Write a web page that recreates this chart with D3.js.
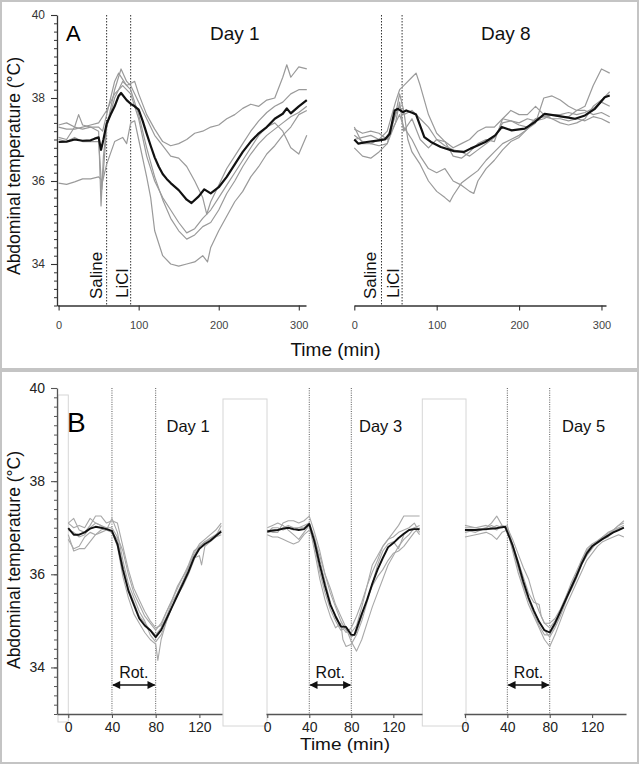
<!DOCTYPE html>
<html>
<head>
<meta charset="utf-8">
<script src="https://cdn.jsdelivr.net/npm/d3@7"></script>
<style>
body { margin: 0; background: #fff; }
svg { display: block; }
text { font-family: "Liberation Sans", Arial, sans-serif; }
</style>
</head>
<body>
<div id="fig"></div>
<script>
// ---- Panel A: LiCl injection, [min, °C] ----
var a1Mean = [[0,36.94],[10,36.95],[20,37.0],[30,36.97],[40,36.98],[45,37.02],[50,37.05],[53,36.75],[56,37.0],[60,37.38],[65,37.6],[70,37.8],[75,38.05],[78,38.12],[85,37.95],[90,37.86],[95,37.8],[100,37.72],[105,37.45],[110,37.14],[115,36.85],[120,36.57],[125,36.35],[130,36.17],[135,36.05],[140,35.95],[150,35.78],[160,35.55],[166,35.47],[175,35.63],[182,35.8],[190,35.7],[200,35.85],[210,36.1],[220,36.4],[230,36.7],[240,36.95],[250,37.15],[260,37.3],[270,37.5],[280,37.62],[285,37.75],[290,37.63],[300,37.8],[310,37.95]];
var a1Mice = [
  [[0,35.95],[10,35.92],[20,35.98],[30,36.05],[40,36.05],[50,36.1],[55,36.0],[60,36.4],[70,36.95],[80,37.05],[85,36.9],[90,37.4],[95,37.45],[100,37.0],[110,36.1],[115,35.6],[120,34.8],[130,34.2],[140,34.0],[150,33.95],[160,34.0],[170,34.05],[180,34.2],[186,34.05],[190,34.4],[200,34.8],[210,35.15],[220,35.5],[230,35.75],[240,36.1],[250,36.35],[260,36.65],[270,36.85],[280,37.1],[290,37.3],[300,37.6],[310,37.7]],
  [[0,37.35],[10,37.4],[20,37.3],[30,37.25],[40,37.3],[50,37.3],[55,37.2],[60,37.6],[65,38.0],[70,38.4],[75,38.6],[80,38.45],[85,38.3],[90,38.35],[95,38.4],[100,38.1],[110,37.6],[120,37.25],[130,36.95],[140,36.85],[150,36.9],[160,37.0],[170,37.15],[180,37.2],[190,37.3],[200,37.35],[210,37.5],[220,37.6],[230,37.75],[240,37.85],[250,37.8],[260,37.95],[270,38.0],[280,38.5],[285,38.8],[290,38.5],[300,38.75],[310,38.7]],
  [[0,37.05],[10,37.0],[20,37.3],[25,37.6],[30,37.35],[40,37.3],[50,37.2],[53,35.4],[56,36.6],[60,37.3],[70,38.2],[78,38.7],[85,38.4],[90,38.3],[100,37.9],[110,37.5],[120,37.1],[130,36.85],[140,36.6],[150,36.55],[160,36.35],[170,36.0],[180,35.6],[185,35.2],[190,35.5],[200,35.9],[210,36.3],[220,36.6],[230,36.9],[240,37.2],[250,37.45],[260,37.65],[270,37.8],[280,37.9],[290,38.1],[300,38.2],[310,38.2]],
  [[0,37.0],[10,36.95],[20,37.05],[30,36.95],[40,36.95],[50,36.95],[54,35.8],[57,36.5],[60,37.3],[70,38.0],[80,38.4],[90,38.2],[100,37.6],[110,36.8],[120,36.1],[130,35.55],[140,35.1],[150,34.8],[160,34.6],[170,34.7],[180,34.9],[190,35.0],[200,35.3],[210,35.7],[220,36.0],[230,36.35],[240,36.65],[250,36.9],[260,37.1],[270,37.25],[280,37.4],[290,37.55],[300,37.65],[310,37.8]],
  [[0,37.3],[10,37.25],[20,37.25],[30,37.3],[40,37.35],[50,37.4],[60,37.7],[70,38.1],[80,38.3],[90,38.1],[100,37.5],[110,36.6],[120,36.0],[130,35.6],[140,35.3],[150,35.0],[160,34.75],[170,34.85],[180,35.1],[190,35.3],[200,35.6],[210,35.9],[220,36.2],[230,36.5],[240,36.8],[250,37.1],[260,37.3],[270,37.4],[280,37.2],[290,36.8],[300,36.65],[310,37.1]]
];
var a8Mean = [[0,37.0],[5,36.9],[15,36.94],[30,36.98],[37,37.0],[43,37.14],[49,37.7],[53,37.74],[59,37.66],[63,37.7],[71,37.64],[75,37.6],[85,37.06],[93,36.94],[105,36.82],[121,36.72],[133,36.7],[141,36.78],[149,36.85],[159,36.94],[171,37.1],[179,37.3],[191,37.22],[207,37.26],[219,37.42],[231,37.62],[243,37.58],[256,37.54],[268,37.5],[280,37.58],[292,37.74],[304,38.02],[310,38.06]];
var a8Mice = [
  [[0,37.3],[10,36.9],[20,36.9],[30,37.0],[40,37.2],[50,37.9],[55,38.2],[60,38.3],[70,38.5],[75,38.6],[80,38.3],[90,37.6],[100,37.15],[110,36.95],[120,36.8],[130,36.9],[140,37.0],[150,37.2],[160,37.3],[170,37.3],[180,37.5],[190,37.45],[200,37.4],[210,37.5],[220,37.45],[230,37.5],[240,37.6],[250,37.55],[260,37.55],[270,37.7],[280,37.8],[290,38.3],[300,38.7],[310,38.6]],
  [[0,37.1],[10,36.95],[20,36.9],[30,36.85],[40,36.9],[50,37.6],[55,38.1],[60,37.7],[65,37.0],[70,36.7],[80,36.4],[90,36.0],[100,35.75],[110,35.6],[116,35.5],[120,35.65],[130,35.95],[140,36.1],[150,36.25],[160,36.5],[170,36.7],[180,36.9],[190,37.0],[200,37.1],[210,37.25],[220,37.5],[230,37.55],[240,37.6],[250,37.6],[260,37.65],[270,37.6],[280,37.65],[290,37.75],[300,37.9],[310,37.8]],
  [[0,36.8],[10,36.6],[20,36.55],[30,36.7],[40,36.9],[50,37.4],[55,37.6],[60,37.3],[70,37.0],[80,36.6],[90,36.3],[100,36.2],[110,36.3],[120,36.0],[130,35.9],[140,35.75],[145,35.7],[150,36.0],[160,36.3],[170,36.5],[180,36.75],[190,36.95],[200,37.05],[210,37.25],[220,37.4],[230,38.0],[240,38.05],[250,37.95],[260,37.8],[270,37.7],[280,37.7],[290,37.6],[300,37.65],[310,37.55]],
  [[0,37.0],[10,37.05],[20,37.1],[30,37.0],[40,37.05],[50,37.6],[55,37.8],[60,37.6],[70,37.7],[80,37.5],[90,37.3],[100,37.0],[110,36.85],[120,36.75],[130,36.7],[140,36.6],[150,36.75],[160,36.9],[170,37.05],[180,37.4],[190,37.45],[200,37.35],[210,37.3],[220,37.5],[230,37.55],[240,37.5],[250,37.5],[260,37.45],[270,37.5],[280,37.45],[290,37.55],[300,37.5],[310,37.4]],
  [[0,37.25],[10,37.15],[20,37.2],[30,37.15],[40,37.0],[50,37.4],[55,37.9],[60,37.2],[70,37.5],[80,37.0],[90,36.8],[100,37.0],[110,36.95],[120,36.6],[130,36.55],[140,36.7],[150,36.9],[160,37.0],[170,36.95],[180,37.5],[190,37.7],[200,37.6],[210,37.6],[220,37.8],[230,37.6],[240,37.5],[250,37.4],[260,37.35],[270,37.4],[280,37.5],[290,37.8],[300,37.95],[310,38.15]]
];
var a1Marks = [60, 90];
var a8Marks = [33, 58];
var aTicksX = [0, 100, 200, 300];

// ---- Panel B: rotation, [min, °C] ----
var b1Mean = [[0,36.99],[5,36.85],[10,36.85],[15,36.9],[20,36.98],[25,37.02],[30,37.0],[35,36.97],[40,36.93],[45,36.65],[50,36.1],[55,35.65],[60,35.35],[65,35.05],[70,34.9],[75,34.8],[80,34.65],[85,34.8],[90,35.05],[95,35.3],[100,35.55],[105,35.8],[110,36.05],[115,36.35],[120,36.55],[125,36.65],[130,36.72],[135,36.82],[140,36.92]];
var b1Mice = [
  [[0,37.1],[5,37.2],[10,36.95],[15,36.9],[20,37.05],[25,37.25],[30,37.25],[35,37.1],[40,37.15],[45,37.1],[50,36.6],[55,36.1],[60,35.7],[65,35.45],[70,35.2],[75,35.0],[80,34.85],[85,34.9],[90,35.2],[95,35.45],[100,35.7],[105,35.95],[110,36.15],[115,36.45],[120,36.65],[125,36.75],[130,36.85],[135,36.95],[140,37.1]],
  [[0,36.75],[5,36.55],[10,36.6],[15,36.8],[20,36.9],[25,36.85],[30,36.95],[35,37.0],[40,36.9],[45,36.6],[50,35.95],[55,35.5],[60,35.15],[65,34.95],[70,34.75],[75,34.6],[80,34.5],[82,34.15],[85,34.6],[90,35.0],[95,35.3],[100,35.55],[105,35.75],[110,36.0],[115,36.3],[120,36.6],[125,36.7],[130,36.75],[135,36.85],[140,36.95]],
  [[0,36.85],[5,36.5],[10,36.55],[15,36.55],[20,36.7],[25,36.85],[30,36.9],[35,36.95],[40,37.2],[45,36.9],[50,36.3],[55,35.8],[60,35.5],[65,35.2],[70,35.0],[75,34.7],[80,34.55],[85,34.7],[90,35.0],[95,35.3],[100,35.6],[105,35.85],[110,36.1],[115,36.35],[120,36.4],[122,36.2],[125,36.6],[130,36.7],[135,36.8],[140,36.85]],
  [[0,37.1],[5,37.0],[10,37.05],[15,37.0],[20,37.2],[25,37.1],[30,37.05],[35,36.95],[40,36.9],[45,36.75],[50,36.2],[55,35.7],[60,35.4],[65,35.1],[70,34.95],[75,34.8],[80,34.7],[85,34.85],[90,35.1],[95,35.4],[100,35.6],[105,35.85],[110,36.15],[115,36.4],[120,36.6],[125,36.7],[130,36.78],[135,36.85],[140,36.9]],
  [[0,36.95],[5,36.9],[10,36.8],[15,36.85],[20,37.0],[25,37.1],[30,37.05],[35,37.0],[40,37.0],[45,36.8],[50,36.5],[55,36.0],[60,35.6],[65,35.35],[70,35.1],[75,34.95],[80,34.8],[85,34.95],[90,35.2],[95,35.45],[100,35.75],[105,35.95],[110,36.2],[115,36.5],[120,36.6],[125,36.68],[130,36.75],[135,36.82],[140,37.05]]
];
var b3Mean = [[0,36.92],[5,36.94],[10,36.95],[15,36.98],[20,37.0],[25,36.97],[30,36.95],[35,36.97],[40,37.08],[45,36.7],[50,36.2],[55,35.75],[60,35.35],[65,35.1],[70,34.88],[75,34.87],[80,34.7],[83,34.7],[90,35.15],[95,35.45],[100,35.8],[105,36.1],[110,36.35],[115,36.58],[120,36.67],[125,36.78],[130,36.87],[135,36.95],[140,36.97],[145,36.97]];
var b3Mice = [
  [[0,36.95],[5,36.9],[10,36.9],[15,37.1],[20,37.15],[25,37.15],[30,37.1],[35,37.15],[40,37.25],[45,36.9],[50,36.5],[55,36.0],[60,35.6],[65,35.3],[70,35.0],[75,34.8],[80,34.75],[85,34.9],[90,35.3],[95,35.75],[100,36.2],[105,36.4],[110,36.6],[115,36.75],[120,36.9],[125,37.05],[130,37.25],[135,37.25],[140,37.25],[145,37.25]],
  [[0,36.85],[5,36.8],[10,36.8],[15,36.75],[20,36.7],[25,36.65],[30,36.7],[35,36.85],[40,36.95],[45,36.75],[50,36.4],[55,36.0],[60,35.7],[65,35.35],[70,35.1],[75,34.85],[80,34.55],[85,34.35],[90,34.6],[95,34.95],[100,35.3],[105,35.6],[110,35.9],[115,36.2],[120,36.4],[125,36.6],[130,36.75],[135,36.85],[140,37.0],[145,37.05]],
  [[0,37.0],[5,37.05],[10,37.1],[15,37.05],[20,36.95],[25,36.85],[30,36.75],[35,36.9],[40,37.05],[45,36.5],[50,35.9],[55,35.45],[60,35.1],[65,34.85],[70,34.95],[72,34.6],[75,34.45],[80,34.5],[85,34.7],[90,35.0],[95,35.4],[100,35.8],[105,36.2],[110,36.5],[115,36.65],[120,36.7],[125,36.55],[130,36.85],[135,36.95],[140,37.0],[145,36.85]],
  [[0,36.9],[5,36.92],[10,36.95],[15,37.0],[20,37.05],[25,37.0],[30,37.0],[35,37.05],[40,37.1],[45,36.6],[50,36.05],[55,35.6],[60,35.25],[65,35.0],[70,34.8],[75,34.85],[80,34.65],[85,34.75],[90,35.1],[95,35.45],[100,35.75],[105,35.95],[110,36.1],[115,36.3],[120,36.45],[125,36.5],[130,36.6],[135,36.75],[140,36.9],[145,37.0]],
  [[0,36.9],[5,37.0],[10,37.0],[15,36.95],[20,37.0],[25,36.95],[30,37.0],[35,37.0],[40,37.1],[45,36.8],[50,36.3],[55,35.85],[60,35.4],[65,35.05],[70,34.9],[75,34.75],[80,34.85],[85,35.1],[90,35.4],[95,35.75],[100,36.05],[105,36.3],[110,36.6],[115,36.75],[120,36.8],[125,36.9],[130,36.95],[135,37.0],[140,37.1],[145,36.9]]
];
var b5Mean = [[0,36.95],[10,36.95],[20,36.97],[30,36.99],[38,37.02],[45,36.62],[50,36.25],[55,35.85],[60,35.5],[65,35.22],[70,34.98],[75,34.8],[80,34.75],[85,34.95],[90,35.2],[95,35.45],[100,35.7],[105,35.95],[110,36.22],[115,36.45],[120,36.6],[125,36.68],[130,36.76],[135,36.83],[140,36.9],[145,36.95],[150,37.0]];
var b5Mice = [
  [[0,36.9],[10,36.95],[20,37.0],[25,37.1],[30,37.25],[35,37.05],[40,37.0],[45,36.75],[50,36.45],[55,36.15],[60,35.9],[65,35.5],[70,35.2],[75,34.95],[80,34.95],[85,35.05],[90,35.25],[95,35.5],[100,35.8],[105,36.05],[110,36.3],[115,36.5],[120,36.6],[125,36.7],[130,36.8],[135,36.85],[140,36.95],[145,37.05],[150,37.15]],
  [[0,36.8],[10,36.85],[20,36.9],[25,36.85],[30,36.75],[35,36.9],[40,36.95],[45,36.5],[50,36.05],[55,35.7],[60,35.35],[65,35.1],[70,34.85],[75,34.6],[80,34.45],[85,34.7],[90,35.0],[95,35.3],[100,35.55],[105,35.8],[110,36.05],[115,36.3],[120,36.45],[125,36.6],[130,36.7],[135,36.75],[140,36.8],[145,36.85],[150,36.8]],
  [[0,37.0],[10,37.0],[20,36.95],[25,37.0],[30,37.05],[35,37.0],[40,37.05],[45,36.6],[50,36.2],[55,35.75],[60,35.45],[65,35.2],[70,35.0],[75,34.8],[80,34.65],[85,34.85],[90,35.1],[95,35.4],[100,35.7],[105,35.95],[110,36.3],[115,36.55],[120,36.65],[125,36.72],[130,36.8],[135,36.9],[140,36.95],[145,37.0],[150,37.05]],
  [[0,37.05],[10,37.0],[20,37.05],[25,37.0],[30,36.95],[35,37.05],[40,37.0],[45,36.65],[50,36.3],[55,35.95],[60,35.6],[65,35.4],[70,35.35],[72,35.1],[75,34.95],[80,34.85],[85,35.0],[90,35.2],[95,35.5],[100,35.75],[105,36.0],[110,36.25],[115,36.5],[120,36.62],[125,36.7],[130,36.75],[135,36.8],[140,36.92],[145,36.98],[150,37.0]],
  [[0,36.95],[10,36.9],[20,37.0],[25,37.05],[30,37.0],[35,37.05],[40,36.95],[45,36.55],[50,36.15],[55,35.8],[60,35.45],[65,35.15],[70,34.9],[75,34.7],[80,34.7],[85,34.9],[90,35.15],[95,35.45],[100,35.65],[105,35.9],[110,36.2],[115,36.4],[120,36.55],[125,36.7],[130,36.8],[135,36.88],[140,36.95],[145,37.05],[150,37.1]]
];
var bMarks = [40, 80];
var bTicksX = [0, 40, 80, 120];
var tempTicks = [34, 36, 38, 40];

var svg = d3.select("#fig").append("svg")
  .attr("width", 639)
  .attr("height", 768);

// panel frames
svg.append("rect").attr("x", 1).attr("y", 1).attr("width", 637).attr("height", 368)
  .attr("fill", "none").attr("stroke", "#c4c4c4").attr("stroke-width", 2);
svg.append("rect").attr("x", 1).attr("y", 371).attr("width", 637).attr("height", 392)
  .attr("fill", "none").attr("stroke", "#c4c4c4").attr("stroke-width", 2);

function styleAxis(g, color, font, size, fill) {
  g.select(".domain").attr("stroke", color).attr("stroke-width", 1.3);
  g.selectAll(".tick line").attr("stroke", color).attr("stroke-width", 1.1);
  g.selectAll(".tick text").attr("font-family", font).attr("font-size", size).attr("fill", fill);
}

function drawLines(g, x, y, mice, mean, grey, wGrey, wMean) {
  var line = d3.line().x(d => x(d[0])).y(d => y(d[1]));
  g.selectAll(null).data(mice).enter().append("path")
    .attr("d", line).attr("fill", "none")
    .attr("stroke", grey).attr("stroke-width", wGrey).attr("stroke-linejoin", "round");
  g.append("path").datum(mean).attr("d", line).attr("fill", "none")
    .attr("stroke", "#111").attr("stroke-width", wMean).attr("stroke-linejoin", "round");
}

function tempAxis(y, x0, font, size, fill, color) {
  var major = svg.append("g").attr("transform", `translate(${x0},0)`)
    .call(d3.axisLeft(y).tickValues(tempTicks).tickFormat(d3.format("d"))
      .tickSize(6).tickPadding(6).tickSizeOuter(0));
  styleAxis(major, color, font, size, fill);
  var minor = svg.append("g").attr("transform", `translate(${x0},0)`)
    .call(d3.axisLeft(y).tickValues(d3.range(33, 40.01, 0.2)).tickSize(3).tickFormat(""));
  minor.select(".domain").remove();
  minor.selectAll(".tick line").attr("stroke", color);
}

// ---------- Panel A ----------
var yA = d3.scaleLinear().domain([33, 40]).range([305.5, 15]);
var xA1 = d3.scaleLinear().domain([-2, 309]).range([57, 306]);
var xA8 = d3.scaleLinear().domain([0, 305.5]).range([354.3, 606]);

function panelA(x, mice, mean, marks, title, titleX) {
  var g = svg.append("g");
  g.selectAll(null).data(marks).enter().append("line")
    .attr("x1", d => x(d)).attr("x2", d => x(d))
    .attr("y1", 15).attr("y2", 305.5)
    .attr("stroke", "#333").attr("stroke-width", 1).attr("stroke-dasharray", "1.5,1.5");
  drawLines(g, x, yA, mice, mean, "#9a9a9a", 1.2, 2.2);
  var ax = svg.append("g").attr("transform", "translate(0,305.5)")
    .call(d3.axisBottom(x).tickValues(aTicksX).tickFormat(d3.format("d"))
      .tickSize(5).tickPadding(11).tickSizeOuter(0));
  styleAxis(ax, "#333", "DejaVu Sans", 11, "#444");
  svg.append("text").attr("x", x(marks[0]) - 5).attr("y", 299)
    .attr("transform", `rotate(-90,${x(marks[0]) - 5},299)`)
    .attr("font-size", 17).attr("fill", "#111").text("Saline");
  svg.append("text").attr("x", x(marks[1]) - 3).attr("y", 298)
    .attr("transform", `rotate(-90,${x(marks[1]) - 3},298)`)
    .attr("font-size", 17).attr("fill", "#111").text("LiCl");
  svg.append("text").attr("x", titleX).attr("y", 40)
    .attr("font-size", 19).attr("fill", "#111").text(title);
}
panelA(xA1, a1Mice, a1Mean, a1Marks, "Day 1", 210);
panelA(xA8, a8Mice, a8Mean, a8Marks, "Day 8", 481);
tempAxis(yA, 57, "DejaVu Sans", 12, "#333", "#333");

svg.append("text").attr("x", 66).attr("y", 40.5).attr("font-size", 22).attr("fill", "#000").text("A");
svg.append("text").attr("transform", "translate(19.5,166) rotate(-90)")
  .attr("text-anchor", "middle").attr("font-size", 17.5).attr("fill", "#111")
  .text("Abdominal temperature (°C)");
svg.append("text").attr("x", 335.5).attr("y", 355.5).attr("text-anchor", "middle")
  .attr("font-size", 19).attr("fill", "#111").text("Time (min)");

// ---------- Panel B ----------
var yB = d3.scaleLinear().domain([33, 40]).range([714, 388]);
var xB1 = d3.scaleLinear().domain([-10.3, 140.7]).range([57, 222]);
var xB3 = d3.scaleLinear().domain([-1.2, 147.3]).range([266, 422]);
var xB5 = d3.scaleLinear().domain([-0.9, 152]).range([464, 626]);

// pasted white gaps between the sub-plots
var gapBoxes = [[58, 395, 10.3, 327], [223, 399, 44, 327], [422.3, 399, 43.7, 327]];
svg.selectAll(null).data(gapBoxes).enter().append("rect")
  .attr("x", d => d[0]).attr("y", d => d[1]).attr("width", d => d[2]).attr("height", d => d[3])
  .attr("fill", "#fff").attr("stroke", "#d6d6d6").attr("stroke-width", 1);

svg.append("defs").append("marker")
  .attr("id", "head").attr("viewBox", "0 0 10 10").attr("refX", 9).attr("refY", 5)
  .attr("markerWidth", 9).attr("markerHeight", 8).attr("markerUnits", "userSpaceOnUse")
  .attr("orient", "auto-start-reverse")
  .append("path").attr("d", "M0,0L10,5L0,10Z").attr("fill", "#111");

function panelB(x, mice, mean, title, titleX) {
  var g = svg.append("g");
  g.selectAll(null).data(bMarks).enter().append("line")
    .attr("x1", d => x(d)).attr("x2", d => x(d))
    .attr("y1", 388).attr("y2", 714)
    .attr("stroke", "#444").attr("stroke-width", 0.9).attr("stroke-dasharray", "1,1.3");
  drawLines(g, x, yB, mice, mean, "#a8a8a8", 1.1, 1.9);
  var ax = svg.append("g").attr("transform", "translate(0,714)")
    .call(d3.axisBottom(x).tickValues(bTicksX).tickFormat(d3.format("d"))
      .tickSize(4).tickPadding(4).tickSizeOuter(0));
  styleAxis(ax, "#555", "Liberation Sans", 14, "#222");
  svg.append("line")
    .attr("x1", x(bMarks[0]) + 1).attr("x2", x(bMarks[1]) - 1)
    .attr("y1", 685).attr("y2", 685)
    .attr("stroke", "#111").attr("stroke-width", 1.4)
    .attr("marker-start", "url(#head)").attr("marker-end", "url(#head)");
  svg.append("text").attr("x", (x(bMarks[0]) + x(bMarks[1])) / 2).attr("y", 678)
    .attr("text-anchor", "middle").attr("font-size", 16).attr("fill", "#111").text("Rot.");
  svg.append("text").attr("x", titleX).attr("y", 431.5)
    .attr("font-size", 16.5).attr("fill", "#111").text(title);
}
panelB(xB1, b1Mice, b1Mean, "Day 1", 166.5);
panelB(xB3, b3Mice, b3Mean, "Day 3", 359);
panelB(xB5, b5Mice, b5Mean, "Day 5", 562);
tempAxis(yB, 57, "Liberation Sans", 14, "#222", "#555");

svg.append("text").attr("x", 67).attr("y", 431.7).attr("font-size", 28).attr("fill", "#000").text("B");
svg.append("text").attr("transform", "translate(20,560) rotate(-90)")
  .attr("text-anchor", "middle").attr("font-size", 17.5).attr("fill", "#111")
  .text("Abdominal temperature (°C)");
svg.append("text").attr("x", 345).attr("y", 750).attr("text-anchor", "middle")
  .attr("font-size", 17).attr("textLength", 90).attr("lengthAdjust", "spacingAndGlyphs")
  .attr("fill", "#111").text("Time (min)");
</script>
</body>
</html>
